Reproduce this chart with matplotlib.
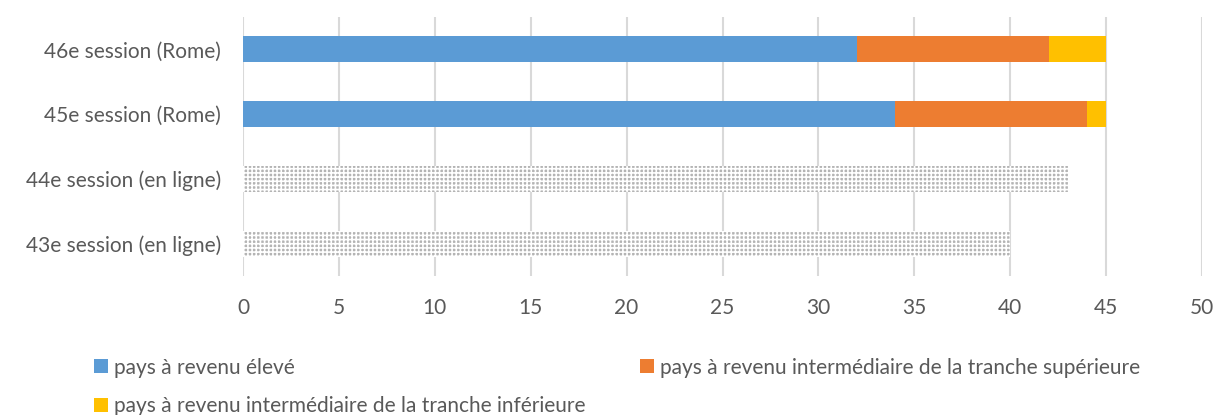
import matplotlib
matplotlib.use("Agg")
import matplotlib.pyplot as plt
import numpy as np

plt.rcParams['font.family'] = ['Lato', 'DejaVu Sans']
plt.rcParams['hatch.linewidth'] = 1.2

categories = ["43e session (en ligne)", "44e session (en ligne)", "45e session (Rome)", "46e session (Rome)"]
high_income = [0, 0, 34, 32]
upper_middle = [0, 0, 10, 10]
lower_middle = [0, 0, 1, 3]
online_total = [40, 43, 0, 0]
series_labels = ["pays à revenu élevé",
                 "pays à revenu intermédiaire de la tranche supérieure",
                 "pays à revenu intermédiaire de la tranche inférieure"]
colors = ["#5b9bd5", "#ed7d31", "#ffc000"]
xticks = [0, 5, 10, 15, 20, 25, 30, 35, 40, 45, 50]

fig = plt.figure(figsize=(12.15, 4.15), dpi=100)
ax = fig.add_axes([243/1215, 1-276/415, (1202-243)/1215, (276-17)/415])

y = np.arange(len(categories))
h = 0.4
b1 = ax.barh(y, high_income, height=h, color=colors[0], label=series_labels[0], zorder=3)
left2 = np.array(high_income)
b2 = ax.barh(y, upper_middle, left=left2, height=h, color=colors[1], label=series_labels[1], zorder=3)
left3 = left2 + np.array(upper_middle)
b3 = ax.barh(y, lower_middle, left=left3, height=h, color=colors[2], label=series_labels[2], zorder=3)
ax.barh(y, online_total, height=h, facecolor="#b4b4b4", edgecolor="white", hatch="++++", linewidth=0, zorder=3)

ax.set_xlim(0, 50)
ax.set_ylim(-0.5, len(categories) - 0.5)
ax.set_xticks(xticks)
ax.set_yticks(y)
ax.set_yticklabels(categories)
ax.xaxis.grid(True, color="#d9d9d9", linewidth=1.5, zorder=0)
ax.set_axisbelow(True)
for s in ax.spines.values():
    s.set_visible(False)
ax.tick_params(axis='both', length=0, colors="#595959", labelsize=15)
ax.tick_params(axis='x', pad=16)
ax.tick_params(axis='y', pad=16)

# row-major order: column 1 = [b1, b3], column 2 = [b2]
leg = fig.legend(handles=[b1, b3, b2], labels=[series_labels[0], series_labels[2], series_labels[1]],
                 ncol=2, loc='upper left',
                 bbox_to_anchor=(77/1215, 1-341/415), frameon=False, fontsize=15,
                 handlelength=0.67, handleheight=0.67, handletextpad=0.3,
                 columnspacing=2.6, labelcolor="#595959", labelspacing=0.9,
                 borderpad=0.3)

fig.savefig("out.png", dpi=100)
